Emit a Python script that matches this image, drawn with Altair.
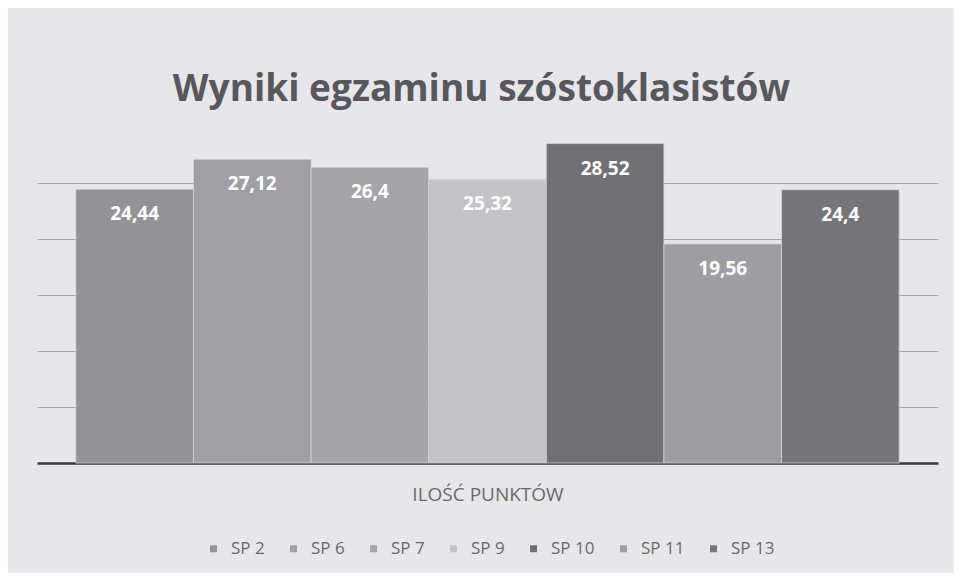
import altair as alt
import pandas as pd

# ---- data ----
schools = ["SP 2", "SP 6", "SP 7", "SP 9", "SP 10", "SP 11", "SP 13"]
scores = [24.44, 27.12, 26.4, 25.32, 28.52, 19.56, 24.4]
labels = ["24,44", "27,12", "26,4", "25,32", "28,52", "19,56", "24,4"]
colors = ["#939397", "#a0a0a4", "#a6a6aa", "#c3c3c7", "#717175", "#9e9ea2", "#76767a"]
grid_values = [5, 10, 15, 20, 25]

df = pd.DataFrame({"school": schools, "score": scores, "label": labels})

FONT = "Open Sans"

x_enc = alt.X(
    "school:N",
    sort=schools,
    scale=alt.Scale(paddingInner=0, paddingOuter=0.33),
    axis=alt.Axis(
        labels=False,
        ticks=False,
        grid=False,
        domain=True,
        domainColor="#3c3c3c",
        domainWidth=2.5,
        title="ILOŚĆ PUNKTÓW",
        titleFont=FONT,
        titleFontSize=19,
        titleFontWeight="normal",
        titleColor="#6a6a6a",
        titleY=31,
        titleBaseline="middle",
    ),
)

y_enc = alt.Y(
    "score:Q",
    scale=alt.Scale(domain=[0, 30], nice=False),
    axis=alt.Axis(
        labels=False,
        ticks=False,
        domain=False,
        title=None,
        values=grid_values,
        grid=True,
        gridColor="#a4a4a8",
        gridWidth=1,
    ),
)

bars = alt.Chart(df).mark_bar(stroke="#d4d4d8", strokeWidth=0.8).encode(
    x=x_enc,
    y=y_enc,
    color=alt.Color(
        "school:N",
        sort=schools,
        scale=alt.Scale(domain=schools, range=colors),
        legend=alt.Legend(
            orient="none",
            direction="horizontal",
            legendX=168,
            legendY=413,
            title=None,
            symbolType="square",
            symbolSize=49,
            symbolStrokeWidth=0,
            symbolOpacity=1,
            labelFont=FONT,
            labelFontSize=17,
            labelColor="#6a6a6a",
            labelOffset=9,
            columnPadding=20,
        ),
    ),
)

text = alt.Chart(df).mark_text(
    color="white",
    font=FONT,
    fontWeight="bold",
    fontSize=19,
    baseline="middle",
    dy=25,
).encode(
    x=alt.X("school:N", sort=schools),
    y=alt.Y("score:Q"),
    text="label:N",
)

chart = (
    alt.layer(bars, text)
    .properties(
        width=901,
        height=336,
        autosize=alt.AutoSizeParams(type="none"),
        padding={"left": 29, "top": 119, "right": 16, "bottom": 110},
        background="#e7e7eb",
        title=alt.TitleParams(
            "Wyniki egzaminu szóstoklasistów",
            font=FONT,
            fontSize=37,
            fontWeight="bold",
            color="#58585c",
            anchor="middle",
            baseline="alphabetic",
            offset=-11,
            dx=-6,
        ),
    )
    .configure_view(stroke=None)
)

chart.save("out.html", embed_options={"renderer": "svg", "actions": False})
